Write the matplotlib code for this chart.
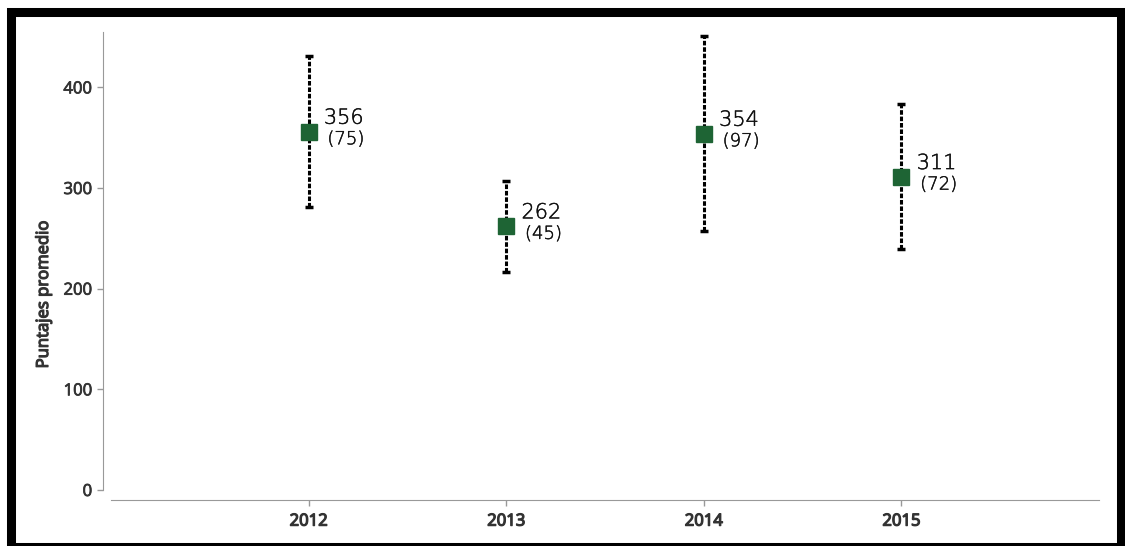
import matplotlib
matplotlib.use('Agg')
import matplotlib.pyplot as plt
import matplotlib.patheffects as pe
from matplotlib.patches import Rectangle

# data
years = [2012, 2013, 2014, 2015]
means = [356, 262, 354, 311]
sds = [75, 45, 97, 72]

plt.rcParams['font.family'] = ['Open Sans', 'DejaVu Sans']

# fake a heavier weight with a thin outline in the text colour
heavy = [pe.withStroke(linewidth=0.9, foreground='#333333')]
semi = [pe.withStroke(linewidth=0.55, foreground='#333333')]
thin = [pe.withStroke(linewidth=0.3, foreground='#111111')]

fig = plt.figure(figsize=(11.25, 5.46), dpi=100)
ax = fig.add_axes([111 / 1125, 1 - 490 / 546, 988 / 1125, 458 / 546])

# error bars (mean +/- sd), dashed
for x, m, s in zip(years, means, sds):
    ax.plot([x, x], [m - s, m + s], color='black', lw=2.2, ls=(0, (1.5, 0.6)),
            zorder=2)
    ax.plot([x], [m - s], marker='_', color='black', ms=6, mew=2.5, zorder=2)
    ax.plot([x], [m + s], marker='_', color='black', ms=6, mew=2.5, zorder=2)

ax.plot(years, means, ls='none', marker='s', ms=11.5, color='#1e6434',
        mec='#1e6434', zorder=3)

for x, m, s in zip(years, means, sds):
    ax.annotate(str(m), (x, m), xytext=(11, 10), textcoords='offset points',
                ha='left', va='center', fontsize=15, color='#111111',
                family='DejaVu Sans', fontweight=200, path_effects=thin)
    ax.annotate('(%d)' % s, (x, m), xytext=(13.5, -5.5), textcoords='offset points',
                ha='left', va='center', fontsize=13, color='#111111',
                family='DejaVu Sans', fontweight=200, path_effects=thin)

ax.set_xlim(2011, 2016)
ax.set_ylim(0, 455)
ax.set_xticks(years)
ax.set_yticks([0, 100, 200, 300, 400])
ax.tick_params(axis='both', colors='#999999', length=4, width=1)
ax.tick_params(axis='both', labelcolor='#333333', labelsize=12)
ax.tick_params(axis='x', pad=6)

ax.set_ylabel('Puntajes promedio', fontsize=12, color='#333333',
              path_effects=heavy)
ax.yaxis.set_label_coords(-(111 - 52) / 988, (490 - 295) / 458)

for side in ['top', 'right']:
    ax.spines[side].set_visible(False)
ax.spines['left'].set_position(('outward', 6))
ax.spines['bottom'].set_position(('outward', 7))
ax.spines['left'].set_color('#999999')
ax.spines['bottom'].set_color('#999999')

# thick black frame round the figure
fig.patches.append(Rectangle((10.5 / 1125, -1 / 546), 1110.5 / 1125, 535 / 546,
                             transform=fig.transFigure, fill=False,
                             edgecolor='black', lw=6.5, zorder=10))

# ticks exist only after a draw; then thicken their labels
fig.canvas.draw()
for tick in ax.xaxis.get_major_ticks():
    tick.label1.set_path_effects(heavy)
for tick in ax.yaxis.get_major_ticks():
    tick.label1.set_path_effects(semi)

fig.savefig('out.png', dpi=100)
